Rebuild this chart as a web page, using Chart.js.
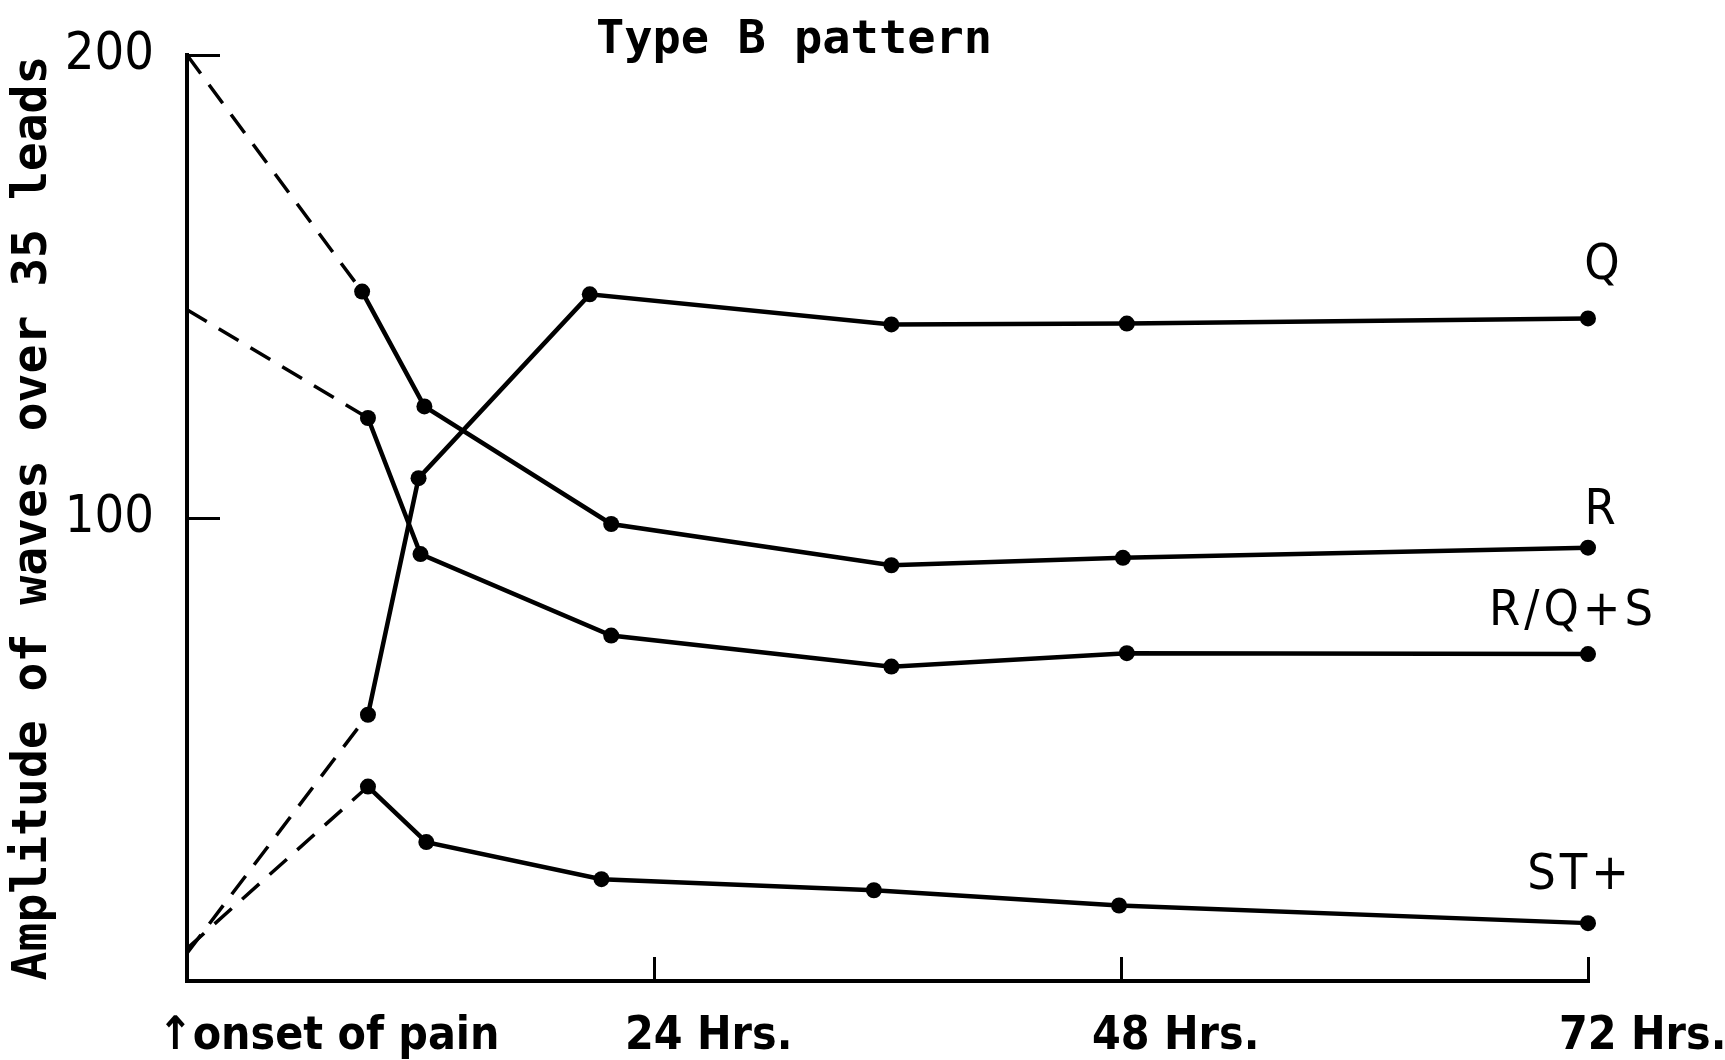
<!DOCTYPE html>
<html>
<head>
<meta charset="utf-8">
<title>Type B pattern</title>
<script src="https://cdn.jsdelivr.net/npm/chart.js@4.4.1/dist/chart.umd.min.js"></script>
<style>
    html, body { margin: 0; padding: 0; background: #fff; overflow: hidden; }
    #wrap { width: 1725px; height: 1060px; }
</style>
</head>
<body>
<div id="wrap"><canvas id="myChart"></canvas></div>
<script>
// hours after onset of pain / amplitude
const qHours = [0, 9.3, 11.9, 20.7, 36.2, 48.3, 72];
const qValues = [6, 57.5, 108.6, 148.3, 141.8, 142.0, 143.1];

const rHours = [0, 9.0, 12.2, 21.8, 36.2, 48.1, 72];
const rValues = [200, 148.9, 124.1, 98.7, 89.8, 91.4, 93.6];

const rqsHours = [0, 9.3, 12.0, 21.8, 36.2, 48.3, 72];
const rqsValues = [145, 121.6, 92.2, 74.6, 67.9, 70.8, 70.6];

const stHours = [0, 9.3, 12.3, 21.3, 35.3, 47.9, 72];
const stValues = [7, 42.0, 30.0, 22.0, 19.6, 16.3, 12.5];

const seriesNames = ['Q', 'R', 'R/Q+S', 'ST+'];
const xTickHours = [0, 24, 48, 72];
const xTickLabels = ['↑onset of pain', '24 Hrs.', '48 Hrs.', '72 Hrs.'];
const yTickValues = [100, 200];

// where each series name sits relative to its last point (dx, dy)
const labelOffsets = [[16, -39], [14, -24], [-15, -29], [-8, -34]];

const narrowFont = '"DejaVu Sans Condensed", "DejaVu Sans", sans-serif';
const monoFont = '"DejaVu Sans Mono", monospace';

function makeSeries(label, hours, values) {
    return {
        label: label,
        data: hours.map((h, i) => ({ x: h, y: values[i] })),
        borderColor: '#000',
        backgroundColor: '#000',
        borderWidth: 4.5,
        // first point is where the dashed extrapolation meets the axis: no dot
        pointRadius: hours.map((h, i) => i === 0 ? 0 : 8),
        pointHoverRadius: hours.map((h, i) => i === 0 ? 0 : 8),
        pointBorderWidth: 0,
        tension: 0,
        clip: false,
        segment: {
            borderDash: ctx => ctx.p0DataIndex === 0 ? [23, 14] : undefined,
            borderWidth: ctx => ctx.p0DataIndex === 0 ? 3.5 : undefined
        }
    };
}

const endLabels = {
    id: 'endLabels',
    afterDatasetsDraw(chart) {
        const ctx = chart.ctx;
        ctx.save();
        ctx.font = '50px ' + narrowFont;
        ctx.fillStyle = '#000';
        ctx.textAlign = 'center';
        ctx.textBaseline = 'alphabetic';
        ctx.letterSpacing = '4px';
        chart.data.datasets.forEach((ds, i) => {
            const pts = chart.getDatasetMeta(i).data;
            const last = pts[pts.length - 1];
            const off = labelOffsets[i];
            ctx.fillText(ds.label, last.x + off[0], last.y + off[1]);
        });
        ctx.restore();
    }
};

new Chart('myChart', {
    type: 'line',
    data: {
        datasets: [
            makeSeries(seriesNames[0], qHours, qValues),
            makeSeries(seriesNames[1], rHours, rValues),
            makeSeries(seriesNames[2], rqsHours, rqsValues),
            makeSeries(seriesNames[3], stHours, stValues)
        ]
    },
    options: {
        responsive: true,
        maintainAspectRatio: false,
        animation: false,
        events: [],
        layout: { padding: { left: 0, right: 137, top: 0, bottom: 0 } },
        plugins: {
            legend: { display: false },
            tooltip: { enabled: false },
            title: {
                display: true,
                text: 'Type B pattern',
                color: '#000',
                font: { family: monoFont, size: 47, weight: 'bold', lineHeight: 1 },
                padding: { top: 17, bottom: -9 }
            }
        },
        scales: {
            x: {
                type: 'linear',
                min: 0,
                max: 72,
                afterBuildTicks: scale => { scale.ticks = xTickHours.map(v => ({ value: v })); },
                afterFit: scale => {
                    scale.height = 79;
                    scale.paddingLeft = 0;
                    scale.paddingRight = 0;
                },
                ticks: {
                    color: '#000',
                    align: 'start',
                    labelOffset: -29,
                    padding: 52,
                    maxRotation: 0,
                    autoSkip: false,
                    font: { family: narrowFont, size: 46, weight: 'bold' },
                    callback: value => xTickLabels[xTickHours.indexOf(value)]
                },
                grid: {
                    drawOnChartArea: false,
                    drawTicks: true,
                    tickLength: -24,
                    color: '#000',
                    lineWidth: 3
                },
                border: { display: true, color: '#000', width: 4 }
            },
            y: {
                min: 0,
                max: 200,
                afterBuildTicks: scale => { scale.ticks = yTickValues.map(v => ({ value: v })); },
                afterFit: scale => {
                    scale.width = 187;
                    scale.paddingTop = 0;
                    scale.paddingBottom = 0;
                },
                ticks: {
                    color: '#000',
                    padding: 66,
                    font: { family: narrowFont, size: 52 }
                },
                grid: {
                    drawOnChartArea: false,
                    drawTicks: true,
                    tickLength: -33,
                    color: '#000',
                    lineWidth: 3
                },
                border: { display: true, color: '#000', width: 4 },
                title: {
                    display: true,
                    text: 'Amplitude of waves over 35 leads',
                    color: '#000',
                    font: { family: monoFont, size: 48, weight: 'bold', lineHeight: 1.2 },
                    padding: { top: 5, bottom: 0 }
                }
            }
        }
    },
    plugins: [endLabels]
});
</script>
</body>
</html>
